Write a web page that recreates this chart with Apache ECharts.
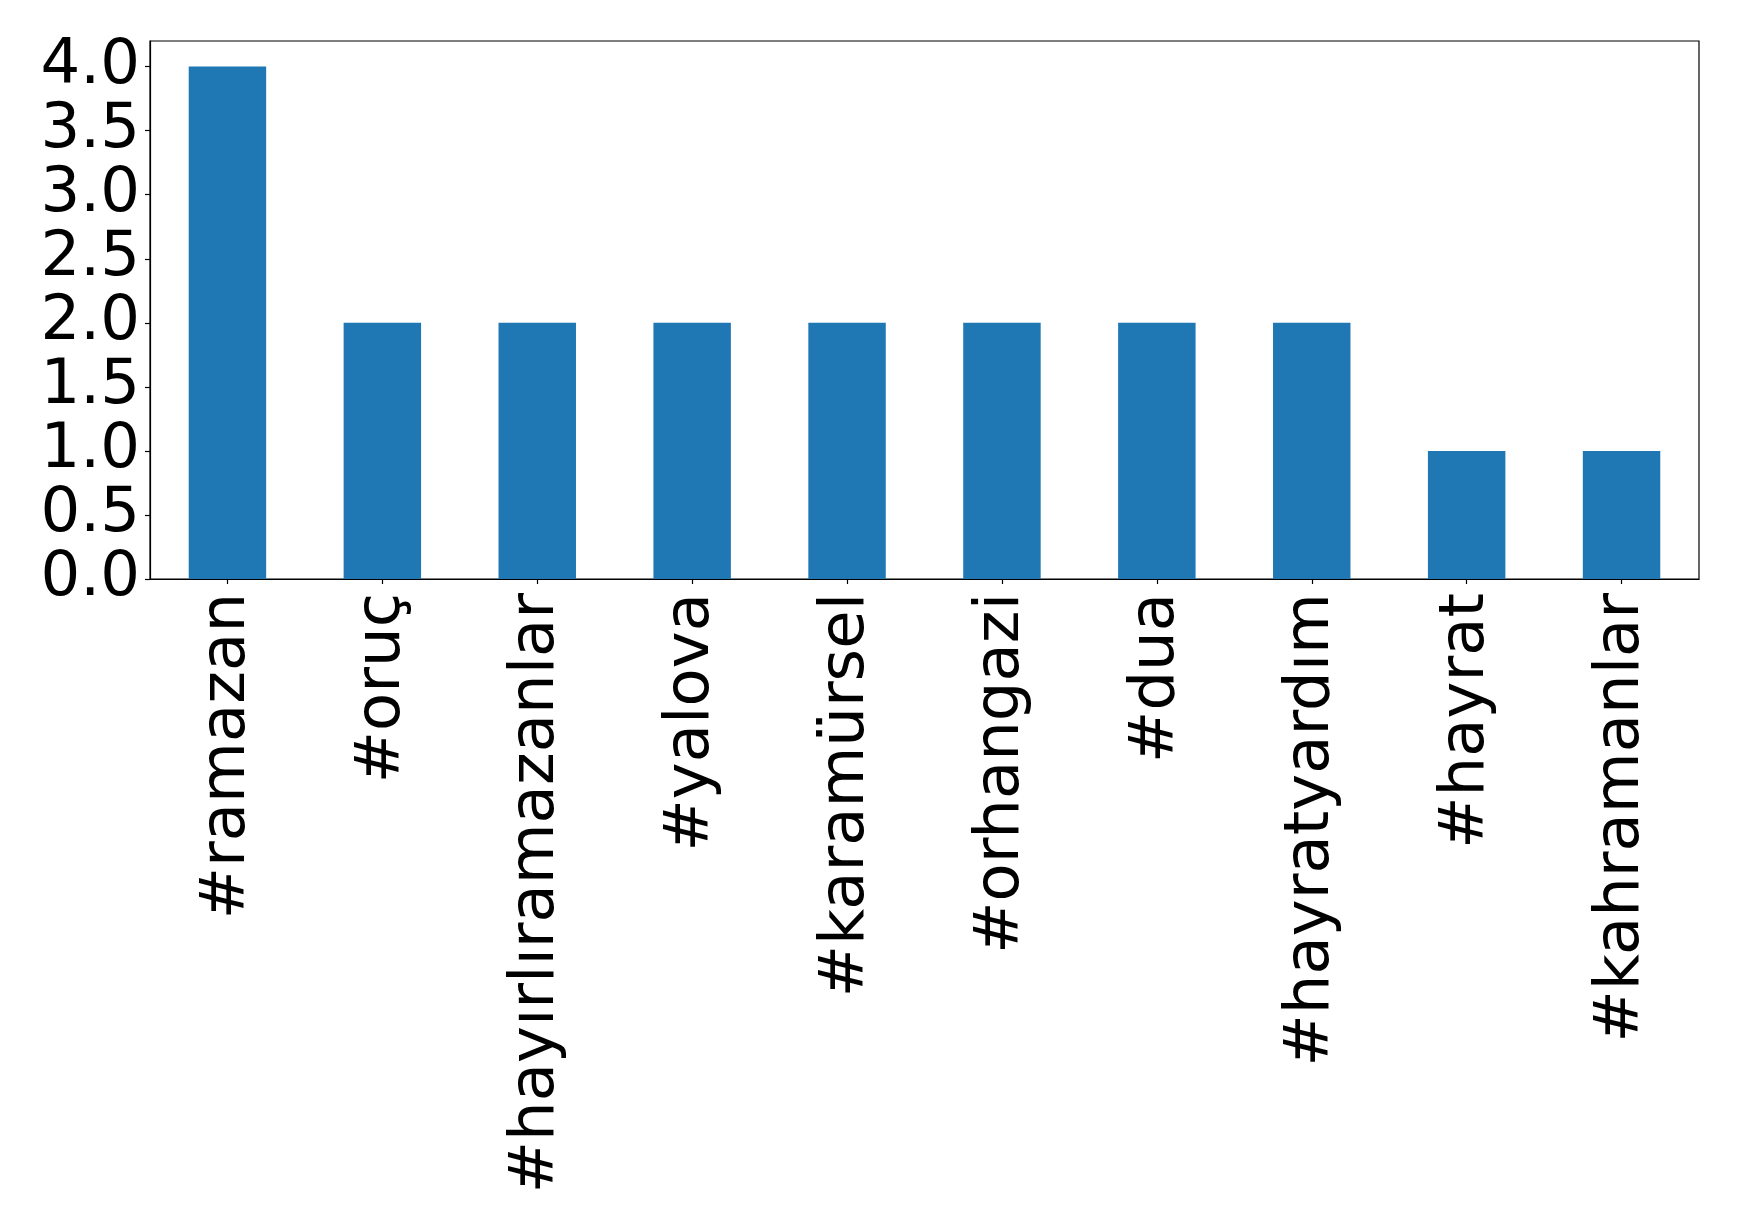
<!DOCTYPE html>
<html>
<head>
<meta charset="utf-8">
<script src="https://cdn.jsdelivr.net/npm/echarts@6/dist/echarts.min.js"></script>
<style>
html,body{margin:0;padding:0;background:#fff;}
#chart{width:1739px;height:1228px;}
</style>
</head>
<body>
<div id="chart"></div>
<script>
const categories = ["#ramazan", "#oruç", "#hayırlıramazanlar", "#yalova", "#karamürsel", "#orhangazi", "#dua", "#hayratyardım", "#hayrat", "#kahramanlar"];
const counts = [4, 2, 2, 2, 2, 2, 2, 2, 1, 1];
const yTicks = [0, 0.5, 1.0, 1.5, 2.0, 2.5, 3.0, 3.5, 4.0];
const yMax = 4.2;

const FONT = "DejaVu Sans";
const chart = echarts.init(document.getElementById('chart'), null, {renderer: 'canvas'});
chart.setOption({
  animation: false,
  backgroundColor: '#ffffff',
  grid: {
    left: 150, right: 40, top: 41, bottom: 649,
    show: true, borderColor: '#000', borderWidth: 1.2, backgroundColor: 'transparent'
  },
  xAxis: {
    type: 'category',
    data: categories,
    boundaryGap: true,
    axisLine: {show: true, lineStyle: {color: '#000', width: 1.2}},
    axisTick: {show: true, alignWithLabel: true, length: 5, lineStyle: {color: '#000', width: 1.2}},
    axisLabel: {
      interval: 0, rotate: 90, margin: 14,
      padding: [6, 0, 0, 0],
      fontFamily: FONT, fontSize: 62.5, color: '#000'
    },
    splitLine: {show: false}
  },
  yAxis: {
    type: 'value',
    min: 0, max: yMax,
    axisLine: {show: true, lineStyle: {color: '#000', width: 1.2}},
    axisTick: {show: true, length: 5, lineStyle: {color: '#000', width: 1.2}, customValues: yTicks},
    axisLabel: {
      customValues: yTicks,
      formatter: v => Number(v).toFixed(1),
      margin: 10, fontFamily: FONT, fontSize: 62.5, color: '#000'
    },
    splitLine: {show: false}
  },
  series: [{
    type: 'bar',
    data: counts,
    barWidth: '50%',
    itemStyle: {color: '#1f77b4'}
  }]
});
</script>
</body>
</html>
